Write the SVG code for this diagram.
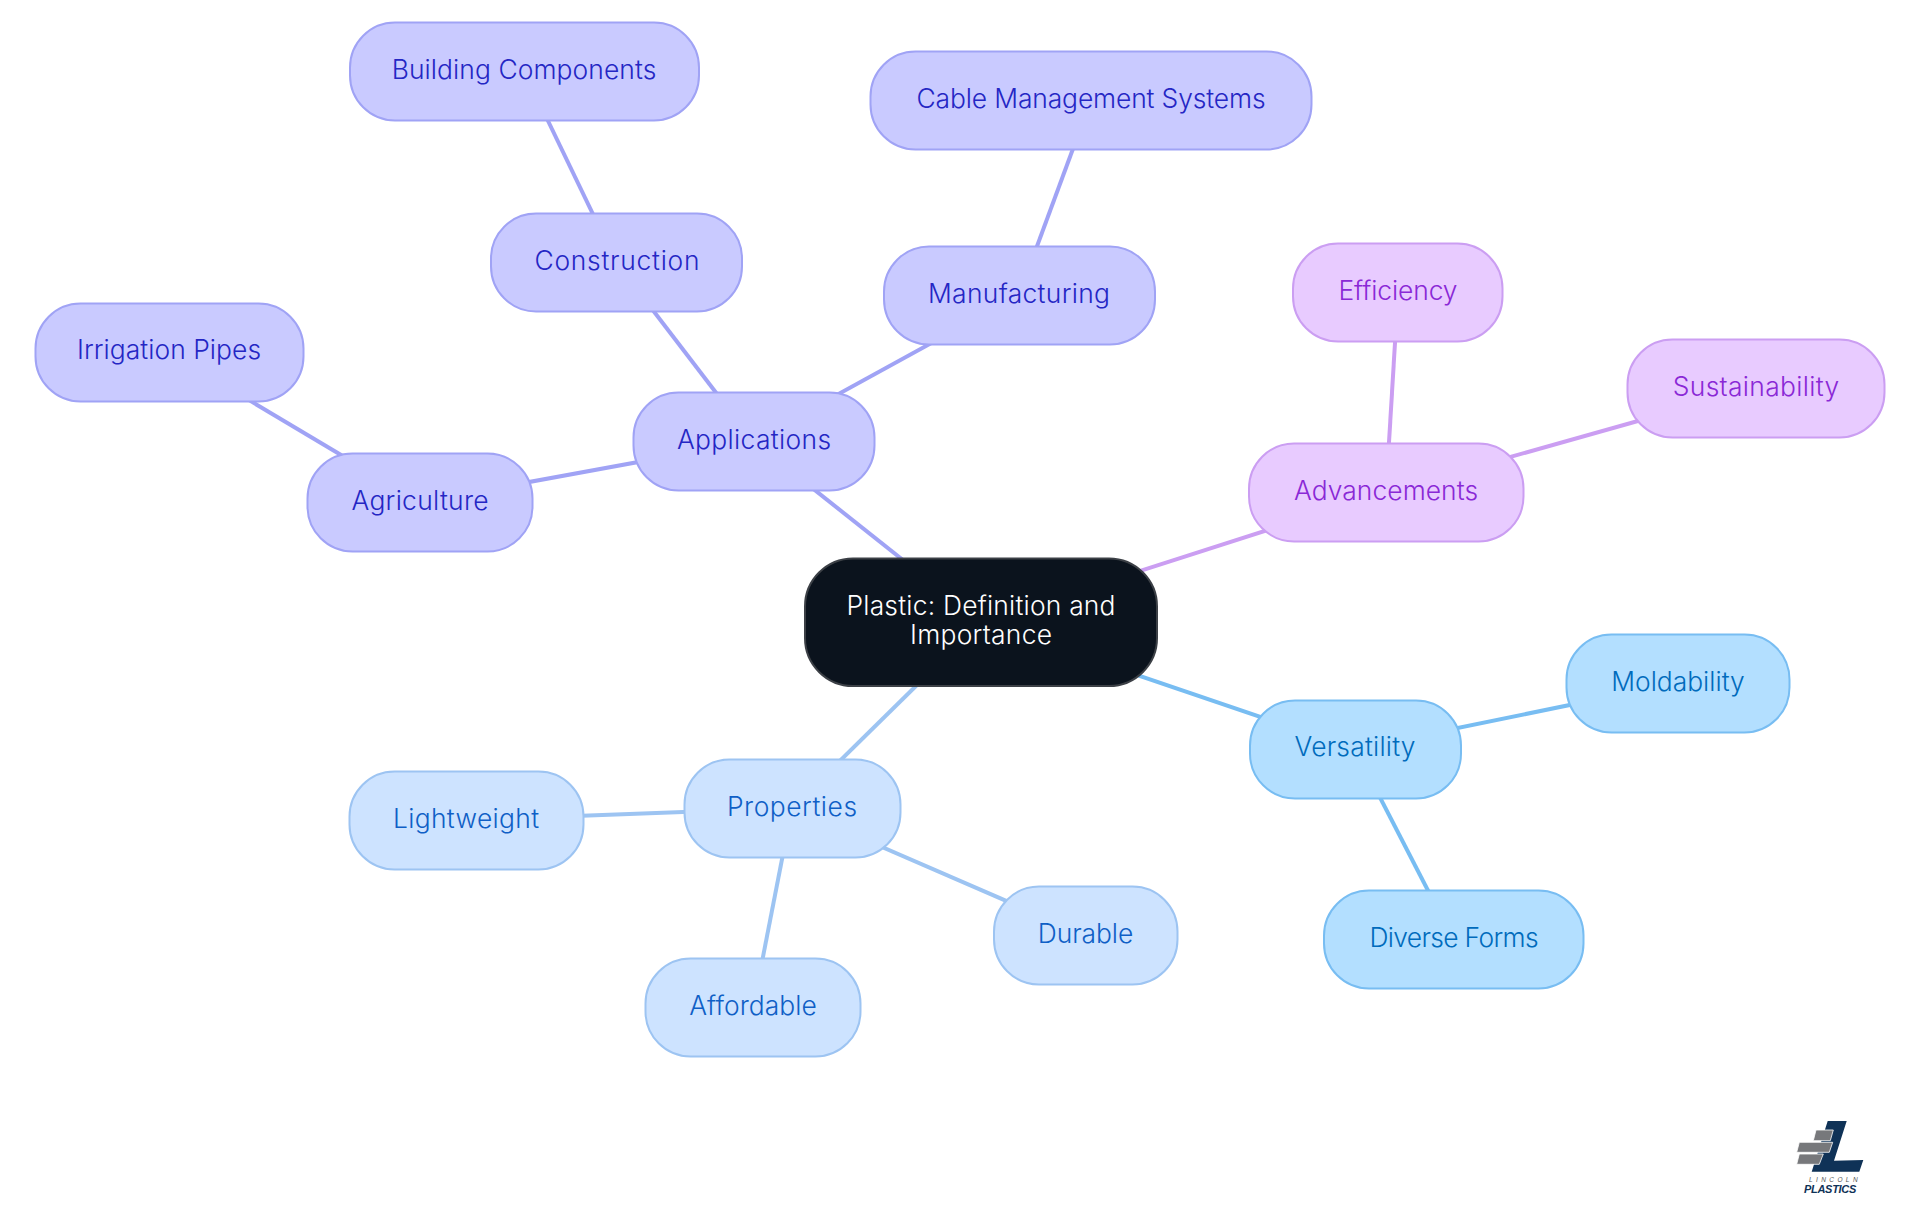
<svg xmlns="http://www.w3.org/2000/svg" width="1920" height="1215" viewBox="0 0 1920 1215">
<style>
text{font-family:"Inter","Noto Sans","Liberation Sans",sans-serif;font-size:26.4px;font-weight:300;text-anchor:middle}
rect{stroke-width:2}
#connectors line{stroke-width:4;fill:none}
.i rect{fill:#c9caff;stroke:#a0a3f5}.i text{fill:#2426c4}
.p rect{fill:#e8cbff;stroke:#cb9ef2}.p text{fill:#8a28d6}
.s rect{fill:#b3dfff;stroke:#78bdf2}.s text{fill:#006bbc}
.b rect{fill:#cde3ff;stroke:#9dc4f2}.b text{fill:#0f5fc6}
.i1{stroke:#a0a3f5}.p1{stroke:#cb9ef2}.s1{stroke:#78bdf2}.b1{stroke:#9dc4f2}
.logo-g{fill:#77787b;stroke:#fff;stroke-width:.8}
</style>
<rect width="1920" height="1215" fill="#fff" style="stroke:none"/>
<g id="connectors">
<line class="i1" x1="981" y1="622" x2="753" y2="441"/>
<line class="i1" x1="753" y1="441" x2="420" y2="502"/>
<line class="i1" x1="753" y1="441" x2="616" y2="262"/>
<line class="i1" x1="753" y1="441" x2="1019" y2="295"/>
<line class="i1" x1="420" y1="502" x2="170" y2="353"/>
<line class="i1" x1="616" y1="262" x2="524" y2="71"/>
<line class="i1" x1="1019" y1="295" x2="1091" y2="100"/>
<line class="p1" x1="981" y1="622" x2="1386" y2="492"/>
<line class="p1" x1="1386" y1="492" x2="1398" y2="293"/>
<line class="p1" x1="1386" y1="492" x2="1755" y2="388"/>
<line class="s1" x1="981" y1="622" x2="1355" y2="749"/>
<line class="s1" x1="1355" y1="749" x2="1677" y2="683"/>
<line class="s1" x1="1355" y1="749" x2="1453" y2="939"/>
<line class="b1" x1="981" y1="622" x2="792" y2="808"/>
<line class="b1" x1="792" y1="808" x2="466" y2="820"/>
<line class="b1" x1="792" y1="808" x2="1085" y2="935"/>
<line class="b1" x1="792" y1="808" x2="753" y2="1008"/>
</g>
<g id="root"><rect x="805" y="558.5" width="352" height="127.5" rx="48" fill="#0b131d" stroke="#3c4046"/><text x="981" y="615" fill="#fff" textLength="269">Plastic: Definition and</text><text x="981" y="644" fill="#fff" textLength="142">Importance</text></g>
<g id="applications" class="i"><rect x="633.5" y="392.5" width="241" height="98" rx="45"/><text x="754" y="449" textLength="154">Applications</text></g>
<g id="agriculture" class="i"><rect x="307.5" y="453.5" width="225" height="98" rx="45"/><text x="420" y="510" textLength="137">Agriculture</text></g>
<g id="irrigation" class="i"><rect x="35.5" y="303.5" width="268" height="98" rx="45"/><text x="169" y="359" textLength="184">Irrigation Pipes</text></g>
<g id="construction" class="i"><rect x="491" y="213.5" width="251" height="98" rx="45"/><text x="617" y="270" textLength="165">Construction</text></g>
<g id="building" class="i"><rect x="350" y="22.5" width="349" height="98" rx="45"/><text x="524" y="79" textLength="264.5">Building Components</text></g>
<g id="manufacturing" class="i"><rect x="884" y="246.5" width="271" height="98" rx="45"/><text x="1019" y="303" textLength="182">Manufacturing</text></g>
<g id="cable" class="i"><rect x="870.5" y="51.5" width="441" height="98" rx="45"/><text x="1091" y="108" textLength="349">Cable Management Systems</text></g>
<g id="advancements" class="p"><rect x="1249" y="443.5" width="274.5" height="98" rx="45"/><text x="1386" y="500" textLength="184">Advancements</text></g>
<g id="efficiency" class="p"><rect x="1293" y="243.5" width="209.5" height="98" rx="45"/><text x="1398" y="300" textLength="119">Efficiency</text></g>
<g id="sustainability" class="p"><rect x="1627.5" y="339.5" width="257" height="98" rx="45"/><text x="1756" y="396" textLength="166.5">Sustainability</text></g>
<g id="versatility" class="s"><rect x="1250" y="700.5" width="211" height="98" rx="45"/><text x="1355" y="756" textLength="121">Versatility</text></g>
<g id="moldability" class="s"><rect x="1566.5" y="634.5" width="223" height="98" rx="45"/><text x="1678" y="691" textLength="133.5">Moldability</text></g>
<g id="diverse" class="s"><rect x="1324" y="890.5" width="259.5" height="98" rx="45"/><text x="1454" y="947" textLength="169">Diverse Forms</text></g>
<g id="properties" class="b"><rect x="684.5" y="759.5" width="216" height="98" rx="45"/><text x="792" y="816" textLength="130">Properties</text></g>
<g id="lightweight" class="b"><rect x="349.5" y="771.5" width="234" height="98" rx="45"/><text x="466" y="828" textLength="146">Lightweight</text></g>
<g id="durable" class="b"><rect x="994" y="886.5" width="183.5" height="98" rx="45"/><text x="1085.5" y="943" textLength="95.5">Durable</text></g>
<g id="affordable" class="b"><rect x="645.5" y="958.5" width="215" height="98" rx="45"/><text x="753" y="1015" textLength="127.5">Affordable</text></g>
<g id="logo">
<polygon points="1827.7,1121 1846.7,1121 1834,1160.7 1863.3,1160 1859.3,1171.7 1811.7,1171.7" fill="#0f3257"/>
<polygon class="logo-g" points="1816,1130 1833.3,1130 1830.3,1140.7 1813.3,1140.7"/>
<polygon class="logo-g" points="1799.3,1142.3 1832.7,1142.3 1829.3,1152.3 1796.7,1152.3"/>
<polygon class="logo-g" points="1799.3,1154 1823.3,1154 1819.3,1164.3 1796.7,1164.3"/>
<text x="1835" y="1181.5" style="font-family:'Liberation Sans',sans-serif;font-size:6.5px;font-weight:400;letter-spacing:3.4px;font-style:italic" fill="#555">LINCOLN</text>
<text x="1830" y="1193" style="font-family:'Liberation Sans',sans-serif;font-size:11px;letter-spacing:-0.3px;font-style:italic;font-weight:700" fill="#0f3257">PLASTICS</text>
</g>
</svg>
